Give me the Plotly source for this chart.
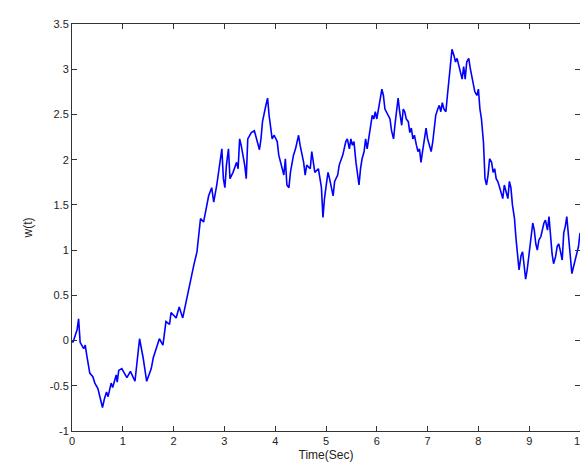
import plotly.graph_objects as go

t_sec = [0.00,0.02,0.06,0.10,0.13,0.16,0.23,0.26,0.29,0.35,0.41,0.45,0.51,0.55,0.60,0.64,0.68,0.71,0.77,0.80,
         0.87,0.89,0.92,0.98,1.08,1.15,1.24,1.33,1.40,1.47,1.56,1.60,1.66,1.72,1.79,1.85,1.92,1.95,2.05,2.11,
         2.18,2.24,2.27,2.34,2.40,2.46,2.53,2.59,2.69,2.75,2.79,2.85,2.92,2.95,2.98,3.01,3.04,3.08,3.11,3.17,
         3.24,3.27,3.30,3.33,3.40,3.43,3.46,3.53,3.59,3.65,3.69,3.72,3.75,3.82,3.85,3.88,3.91,3.94,3.98,4.04,
         4.07,4.11,4.17,4.20,4.23,4.27,4.30,4.36,4.40,4.46,4.49,4.56,4.59,4.62,4.69,4.72,4.75,4.78,4.85,4.88,
         4.91,4.94,4.97,5.01,5.04,5.07,5.10,5.14,5.17,5.23,5.26,5.33,5.39,5.42,5.46,5.49,5.52,5.55,5.59,5.62,
         5.65,5.68,5.71,5.75,5.78,5.81,5.84,5.91,5.94,5.97,6.00,6.04,6.07,6.10,6.13,6.16,6.23,6.26,6.29,6.33,
         6.36,6.39,6.42,6.45,6.49,6.52,6.55,6.58,6.62,6.65,6.68,6.71,6.74,6.78,6.81,6.84,6.87,6.90,6.94,6.97,
         7.00,7.03,7.07,7.10,7.13,7.16,7.20,7.23,7.26,7.29,7.32,7.36,7.39,7.42,7.45,7.48,7.52,7.55,7.58,7.61,
         7.64,7.68,7.71,7.74,7.77,7.81,7.84,7.87,7.90,7.93,7.97,8.00,8.03,8.06,8.10,8.11,8.13,8.16,8.19,8.22,
         8.26,8.29,8.32,8.35,8.38,8.42,8.45,8.48,8.51,8.55,8.58,8.61,8.64,8.67,8.71,8.74,8.77,8.80,8.84,8.87,
         8.90,8.93,8.96,9.00,9.03,9.07,9.10,9.13,9.16,9.19,9.23,9.26,9.29,9.32,9.36,9.39,9.42,9.45,9.48,9.52,
         9.55,9.58,9.61,9.65,9.68,9.71,9.74,9.77,9.81,9.84,9.87,9.90,9.94,9.97,10.00]

w_t = [0.00,-0.02,0.05,0.12,0.24,-0.02,-0.09,-0.05,-0.16,-0.36,-0.40,-0.47,-0.53,-0.62,-0.74,-0.64,-0.57,-0.62,-0.47,-0.52,
       -0.38,-0.46,-0.33,-0.31,-0.41,-0.34,-0.45,0.02,-0.19,-0.45,-0.31,-0.19,-0.08,0.02,-0.05,0.21,0.18,0.31,0.25,0.37,
       0.25,0.42,0.50,0.69,0.84,0.98,1.35,1.31,1.60,1.69,1.53,1.72,2.02,2.12,1.79,1.69,1.94,2.12,1.79,1.86,
       1.97,1.90,2.23,2.16,1.94,1.79,2.23,2.30,2.32,2.21,2.11,2.23,2.42,2.61,2.68,2.49,2.38,2.23,2.27,2.20,
       2.05,1.97,1.83,2.01,1.72,1.69,1.86,2.05,2.12,2.27,2.16,1.97,1.83,1.94,1.90,2.09,1.97,1.86,1.90,1.79,
       1.69,1.36,1.57,1.74,1.86,1.79,1.72,1.60,1.76,1.83,1.94,2.05,2.20,2.23,2.12,2.23,2.16,2.20,1.97,1.83,
       1.72,1.90,2.01,2.09,2.23,2.12,2.23,2.49,2.45,2.53,2.45,2.56,2.68,2.78,2.71,2.56,2.49,2.45,2.32,2.23,
       2.40,2.56,2.68,2.53,2.38,2.56,2.53,2.45,2.42,2.30,2.35,2.23,2.27,2.16,2.09,2.12,1.97,2.09,2.23,2.35,
       2.23,2.16,2.09,2.19,2.35,2.49,2.56,2.60,2.53,2.63,2.56,2.53,2.71,2.86,3.08,3.22,3.15,3.08,3.12,3.04,
       2.96,2.89,3.03,2.89,3.08,3.12,3.01,2.93,2.82,2.75,2.71,2.78,2.56,2.45,2.19,2.01,1.79,1.72,1.83,2.01,
       1.97,1.86,1.90,1.79,1.76,1.69,1.64,1.57,1.72,1.64,1.57,1.76,1.69,1.50,1.35,1.13,0.91,0.78,0.94,0.98,
       0.83,0.68,0.78,0.96,1.15,1.30,1.22,1.07,1.00,1.11,1.15,1.22,1.30,1.33,1.22,1.37,1.15,0.96,0.85,0.93,
       1.04,1.07,1.00,0.89,1.19,1.26,1.37,1.15,0.89,0.74,0.81,0.89,0.96,1.04,1.19]

x_ticks = [0,1,2,3,4,5,6,7,8,9,10]
x_labels = ["0","1","2","3","4","5","6","7","8","9","10"]
y_ticks = [-1,-0.5,0,0.5,1,1.5,2,2.5,3,3.5]
y_labels = ["-1","-0.5","0","0.5","1","1.5","2","2.5","3","3.5"]

fig = go.Figure()
fig.add_trace(go.Scatter(x=t_sec, y=w_t, mode="lines",
                         line=dict(color="#0000ff", width=1.6), showlegend=False))

axis_common = dict(showline=True, linecolor="#333333", linewidth=1, mirror="ticks",
                   ticks="inside", ticklen=5, tickcolor="#333333", showgrid=False, zeroline=False,
                   ticklabeloverflow="allow",
                   tickfont=dict(family="Liberation Sans, Arial", size=11, color="#222222"))

fig.update_xaxes(range=[0, 10], tickvals=x_ticks, ticktext=x_labels,
                 title=dict(text="Time(Sec)", standoff=4,
                            font=dict(family="Liberation Sans, Arial", size=12, color="#222222")),
                 **axis_common)
fig.update_yaxes(range=[-1, 3.5], tickvals=y_ticks, ticktext=y_labels,
                 title=dict(text="w(t)", standoff=14,
                            font=dict(family="Liberation Sans, Arial", size=12, color="#222222")),
                 **axis_common)

fig.update_layout(width=588, height=470, plot_bgcolor="white", paper_bgcolor="white",
                  margin=dict(l=64, r=10, t=15, b=47))

fig.write_html("out.html")
